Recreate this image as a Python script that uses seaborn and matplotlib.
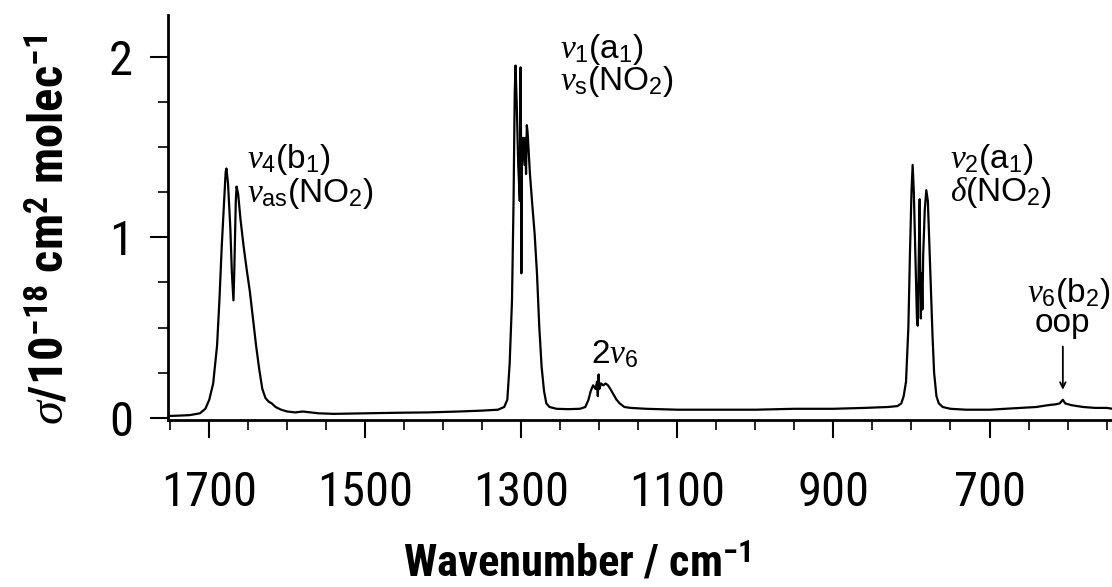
import matplotlib
matplotlib.use("Agg")
import matplotlib.pyplot as plt
import numpy as np
import pandas as pd
import seaborn as sns
from matplotlib.ticker import MultipleLocator, FixedLocator
from matplotlib import font_manager

# ---- data ----
wavenumber = [
    1753, 1740, 1725, 1712, 1705, 1700, 1695, 1690, 1687, 1684, 1681, 1679, 1678,
    1676, 1673, 1671, 1669, 1668, 1666, 1665, 1663, 1660, 1656, 1652, 1648, 1644,
    1640, 1636, 1632, 1628, 1624, 1620, 1615, 1608, 1600, 1590, 1580, 1570, 1560,
    1540, 1500, 1460, 1420, 1380, 1350, 1330, 1322, 1318, 1315, 1312, 1310, 1308.5,
    1307.5, 1306, 1304, 1302, 1301, 1300.5, 1300, 1299.5, 1298, 1296, 1295, 1294,
    1293, 1292, 1291, 1289, 1286, 1283, 1280, 1277, 1274, 1271, 1268, 1264, 1255,
    1240, 1225, 1218, 1214, 1211, 1208, 1205, 1203, 1202, 1201, 1200, 1198, 1195,
    1192, 1189, 1186, 1182, 1178, 1174, 1168, 1160, 1140, 1100, 1050, 1000, 950,
    900, 860, 830, 818, 813, 810, 807, 804, 802, 800, 798.5, 797, 795, 793, 792,
    791, 790, 789.5, 789, 788, 787, 786, 785, 783, 781, 779, 777, 775, 773, 771,
    768, 765, 760, 750, 730, 700, 680, 660, 640, 625, 615, 610, 606, 603, 595,
    580, 565, 550, 542,
]
cross_section = [
    0.010, 0.012, 0.015, 0.025, 0.05, 0.10, 0.19, 0.40, 0.65, 0.95, 1.20, 1.36, 1.38,
    1.30, 1.05, 0.80, 0.65, 0.80, 1.20, 1.28, 1.24, 1.10, 0.95, 0.82, 0.70, 0.55,
    0.40, 0.27, 0.16, 0.11, 0.09, 0.08, 0.06, 0.045, 0.035, 0.03, 0.035, 0.03, 0.025,
    0.022, 0.025, 0.028, 0.03, 0.035, 0.04, 0.045, 0.06, 0.10, 0.30, 0.65, 1.20, 1.80,
    1.95, 1.75, 1.40, 1.20, 1.94, 1.60, 0.80, 1.40, 1.55, 1.40, 1.55, 1.35,
    1.62, 1.58, 1.50, 1.35, 1.18, 1.02, 0.80, 0.50, 0.28, 0.15, 0.08, 0.06, 0.05,
    0.048, 0.05, 0.06, 0.10, 0.15, 0.18, 0.16, 0.20, 0.12, 0.24, 0.16, 0.19, 0.18,
    0.19, 0.18, 0.16, 0.13, 0.10, 0.08, 0.06, 0.055, 0.05, 0.045, 0.045, 0.045, 0.05,
    0.05, 0.055, 0.06, 0.065, 0.08, 0.12, 0.20, 0.50, 0.90, 1.25, 1.40, 1.25, 0.90, 0.55, 0.51,
    0.80, 1.10, 1.21, 0.90, 0.55, 0.80, 0.60, 0.90, 1.15, 1.26, 1.20, 0.95, 0.70, 0.45, 0.25,
    0.12, 0.08, 0.06, 0.05, 0.045, 0.045, 0.05, 0.055, 0.06, 0.07, 0.075, 0.08, 0.10, 0.08, 0.07,
    0.06, 0.055, 0.055, 0.05,
]
x_ticks = [1700, 1500, 1300, 1100, 900, 700]
x_tick_labels = ["1700", "1500", "1300", "1100", "900", "700"]
y_ticks = [0, 1, 2]
y_tick_labels = ["0", "1", "2"]

df = pd.DataFrame({"wavenumber": wavenumber, "sigma": cross_section})

# ---- style ----
sns.set_style("ticks")
names = {f.name for f in font_manager.fontManager.ttflist}
main = "Liberation Sans"
cond = "Roboto Condensed" if "Roboto Condensed" in names else main
plt.rcParams["font.family"] = [main, "DejaVu Sans"]
plt.rcParams["text.color"] = "black"
plt.rcParams["axes.labelcolor"] = "black"
plt.rcParams["xtick.color"] = "black"
plt.rcParams["ytick.color"] = "black"
plt.rcParams["mathtext.fontset"] = "custom"
plt.rcParams["mathtext.rm"] = main
plt.rcParams["mathtext.it"] = "Liberation Serif:italic"
plt.rcParams["mathtext.bf"] = cond + ":bold"

fig = plt.figure(figsize=(11.12, 5.87), dpi=100)
ax = fig.add_axes([0.151, 0.2845, 0.849, 0.6900])

sns.lineplot(data=df, x="wavenumber", y="sigma", ax=ax, color="black",
             linewidth=1.6, estimator=None, sort=False)

ax.set_xlim(1753, 543)
ax.set_ylim(-0.012, 2.23)

ax.xaxis.set_major_locator(FixedLocator(x_ticks))
ax.set_xticklabels(x_tick_labels, family=[cond, "DejaVu Sans"])
ax.xaxis.set_minor_locator(MultipleLocator(50))
ax.yaxis.set_major_locator(FixedLocator(y_ticks))
ax.set_yticklabels(y_tick_labels, family=[cond, "DejaVu Sans"])
ax.yaxis.set_minor_locator(MultipleLocator(0.25))

ax.tick_params(axis="both", which="major", direction="out", length=13, width=1.5,
               labelsize=35, color="black", labelcolor="black")
ax.tick_params(axis="both", which="minor", direction="out", length=7, width=1.2,
               color="black")
ax.tick_params(axis="x", which="major", pad=23)
ax.tick_params(axis="y", which="major", pad=12)

for s in ["top", "right"]:
    ax.spines[s].set_visible(False)
for s in ["left", "bottom"]:
    ax.spines[s].set_linewidth(2.0)
    ax.spines[s].set_color("black")

ax.set_xlabel(r"Wavenumber / cm$^{\mathbf{-1}}$", fontsize=32, fontweight="bold",
              family=[cond, "DejaVu Sans"])
ax.xaxis.set_label_coords(0.433, -0.305)
ax.set_ylabel(r"$\sigma$/10$^{\mathbf{-18}}$ cm$^{\mathbf{2}}$ molec$^{\mathbf{-1}}$",
              fontsize=35, fontweight="bold", family=[cond, "DejaVu Sans"])
ax.yaxis.set_label_coords(-0.100, 0.47)

fs = 24
ax.text(1652, 1.43, r"$\nu_4(\mathrm{b}_1)$", fontsize=fs, ha="left", va="center")
ax.text(1652, 1.24, r"$\nu_\mathrm{as}(\mathrm{NO}_2)$", fontsize=fs, ha="left", va="center")
ax.text(1251, 2.04, r"$\nu_1(\mathrm{a}_1)$", fontsize=fs, ha="left", va="center")
ax.text(1251, 1.86, r"$\nu_\mathrm{s}(\mathrm{NO}_2)$", fontsize=fs, ha="left", va="center")
ax.text(1180, 0.35, r"$2\nu_6$", fontsize=fs, ha="center", va="center")
ax.text(751, 1.43, r"$\nu_2(\mathrm{a}_1)$", fontsize=fs, ha="left", va="center")
ax.text(751, 1.25, r"$\delta(\mathrm{NO}_2)$", fontsize=fs, ha="left", va="center")
ax.text(599, 0.69, r"$\nu_6(\mathrm{b}_2)$", fontsize=fs, ha="center", va="center")
ax.text(606, 0.52, "oop", fontsize=fs, ha="center", va="center")
ax.annotate("", xy=(606, 0.14), xytext=(606, 0.41),
            arrowprops=dict(arrowstyle="->", color="black", lw=1.3))

fig.savefig("out.png", dpi=100)
